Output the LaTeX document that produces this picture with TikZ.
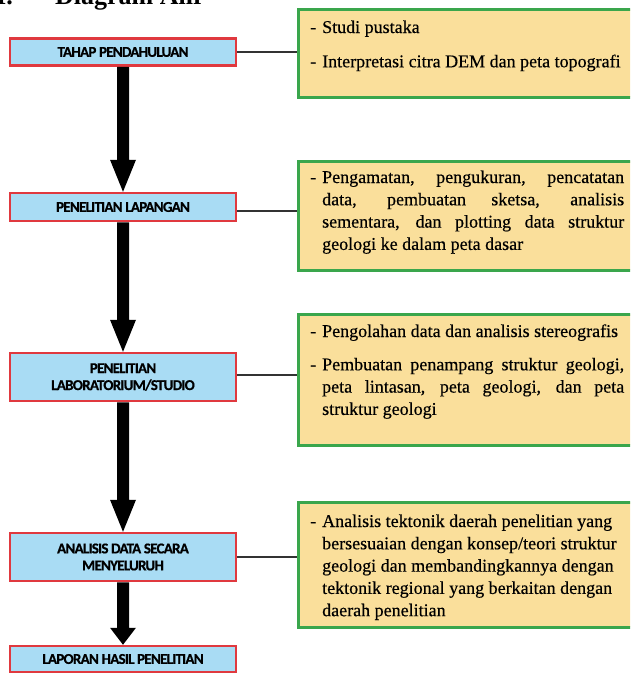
\documentclass[tikz,border=0pt]{standalone}
\usepackage{fontspec}
\setmainfont{Liberation Serif}[FakeBold=0.4]
\newfontfamily\titlefont{Liberation Serif}
\newfontfamily\boxfont{Carlito}[LetterSpace=-5, BoldFeatures={FakeBold=0.6}]
\usetikzlibrary{calc}
\definecolor{lblue}{HTML}{A9DCF4}
\definecolor{myred}{HTML}{E0393F}
\definecolor{mygreen}{HTML}{3AA64C}
\definecolor{lyellow}{HTML}{FADF9B}
\definecolor{conncol}{HTML}{333333}
\newcommand\itm[1]{\noindent\hangindent=12pt\hangafter=1\makebox[12pt][l]{-}#1\par}
\newcommand\rtxt[1]{\parbox[t]{314pt}{\fontsize{18}{22.3}\selectfont\tolerance=10000\hyphenpenalty=10000\parskip=0pt #1}}
\begin{document}
\begin{tikzpicture}[x=1pt,y=-1pt,
  lbox/.style={draw=myred, line width=2.5pt, fill=lblue, minimum width=226pt, inner sep=0pt, align=center, font=\boxfont\bfseries\fontsize{15}{17}\selectfont},
  rbox/.style={draw=mygreen, line width=2.5pt, fill=lyellow, inner sep=0pt, minimum width=340pt, anchor=north west},
  rtext/.style={inner sep=0pt, anchor=base west},
  conn/.style={draw=conncol, line width=1.2pt},
  flow/.style={fill=black}]
\useasboundingbox (0,0) rectangle (630,675);
\clip (0,0) rectangle (630,675);
\fill[white] (0,0) rectangle (630,675);
% title (cut off at top)
\node[inner sep=0pt, anchor=base east, font=\titlefont\bfseries\fontsize{26}{30}\selectfont] (t1) at (13,4) {VI.};
\node[inner sep=0pt, anchor=base west, font=\titlefont\bfseries\fontsize{26}{30}\selectfont] (t2) at (55,4) {Diagram Alir};
% left boxes
\node[lbox, minimum height=27pt] (b1) at (123,52) {TAHAP PENDAHULUAN};
\node[lbox, minimum height=28pt] (b2) at (123,207) {PENELITIAN LAPANGAN};
\node[lbox, minimum height=48pt] (b3) at (123,377) {PENELITIAN\\LABORATORIUM/STUDIO};
\node[lbox, minimum height=48pt] (b4) at (123,557) {ANALISIS DATA SECARA\\MENYELURUH};
\node[lbox, minimum height=26pt] (b5) at (123,659) {LAPORAN HASIL PENELITIAN};
% right boxes
\node[rbox, minimum height=88pt] (ra) at (297,8) {};
\node[rbox, minimum height=109pt] (rb) at (297,160) {};
\node[rbox, minimum height=131pt] (rc) at (297,313) {};
\node[rbox, minimum height=125pt] (rd) at (297,501) {};
% right texts
\node[rtext] (ta) at (310,33) {\rtxt{\itm{Studi pustaka}\vspace{12pt}\itm{Interpretasi citra DEM dan peta topografi}}};
\node[rtext] (tb) at (310,183) {\rtxt{\itm{Pengamatan, pengukuran, pencatatan\linebreak data, pembuatan sketsa, analisis\linebreak sementara, dan plotting data struktur\linebreak geologi ke dalam peta dasar}}};
\node[rtext] (tc) at (310,337) {\rtxt{\itm{Pengolahan data dan analisis stereografis}\vspace{11pt}\itm{Pembuatan penampang struktur geologi,\linebreak peta lintasan, peta geologi, dan peta\linebreak struktur geologi}}};
\node[rtext] (td) at (310,527) {\rtxt{\raggedright\itm{Analisis tektonik daerah penelitian yang\newline bersesuaian dengan konsep/teori struktur\newline geologi dan membandingkannya dengan\newline tektonik regional yang berkaitan dengan\newline daerah penelitian}}};
% connectors
\draw[conn] (b1.east) -- (b1.east -| ra.west);
\draw[conn] ([yshift=-4pt]b2.east) -- ([yshift=-4pt]b2.east -| rb.west);
\draw[conn] ([yshift=2pt]b3.east) -- ([yshift=2pt]b3.east -| rc.west);
\draw[conn] (b4.east) -- (b4.east -| rd.west);
% flow arrows
\foreach \u/\v/\h in {b1/b2/32, b2/b3/32, b3/b4/32, b4/b5/17}{
  \fill[flow] ($(\u.south)+(-6,0)$) -- ($(\v.north)+(-6,-\h)$) -- ($(\v.north)+(-13,-\h)$) -- (\v.north)
    -- ($(\v.north)+(13,-\h)$) -- ($(\v.north)+(6,-\h)$) -- ($(\u.south)+(6,0)$) -- cycle;
}
\end{tikzpicture}
\end{document}
